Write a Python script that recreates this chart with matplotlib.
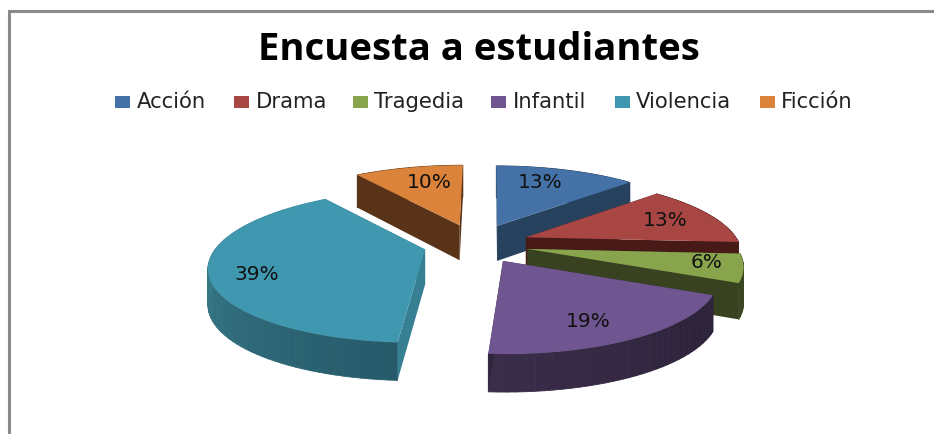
import numpy as np
import matplotlib
matplotlib.use("Agg")
import matplotlib.pyplot as plt
from matplotlib.collections import PolyCollection
from matplotlib.colors import to_rgb
from matplotlib.patches import Rectangle

# ---- data ----
title = "Encuesta a estudiantes"
categories = ["Acción", "Drama", "Tragedia", "Infantil", "Violencia", "Ficción"]
values = [13, 13, 6, 19, 39, 10]

# ---- style ----
top_colors = ["#4471A6", "#A84644", "#88A54E", "#6F5690", "#4097B0", "#DB833B"]
radial_colors = ["#27425F", "#471A18", "#384220", "#2E243B", "#377F93", "#583317"]
rim_start = ["#27425F", "#471A18", "#3A4521", "#2B2138", "#265A6A", "#583317"]
rim_end = ["#27425F", "#471A18", "#3A4521", "#3A2D4A", "#44909F", "#583317"]
draw_order = [0, 5, 1, 2, 3, 4]

# ---- layout (pixels of the 934x434 canvas) ----
center_x, center_y = 476.0, 244.0
explode_x, explode_y = 53.0, 19.7
radius_x, radius_y, persp = 210.0, 73.0, 0.216
vanish_x, skew = 490.0, 0.6
depth_mid, depth_slope = 35.0, 3.0
label_offsets = [(43, -43), (139, -17), (179, 14), (85, 61), (-168, 25), (-30, -43)]
swatch_left = [115, 233.5, 352.5, 491, 614.5, 760]
legend_text_left = [137, 256, 374, 513, 636, 781]

fig = plt.figure(figsize=(9.34, 4.34), dpi=100, facecolor="white")
ax = fig.add_axes([0, 0, 1, 1])
ax.set_xlim(0, 934)
ax.set_ylim(434, 0)
ax.axis("off")

# frame of the pasted picture
ax.plot([8.5, 8.5, 934], [434, 11, 11], color="#8A8A8A", lw=2.2,
        solid_joinstyle="miter", zorder=1)


def project(theta, apex_x):
    X, Y = np.sin(theta), -np.cos(theta)
    s = 1.0 / (1.0 - persp * Y)
    dx = radius_x * X * s + (apex_x - vanish_x) * (s - 1.0) * skew
    return dx, radius_y * Y * s, depth_mid + depth_slope * Y


fractions = np.array(values, dtype=float) / np.sum(values)
edges = np.concatenate([[0.0], np.cumsum(fractions)]) * 2 * np.pi

z = 2
for i in draw_order:
    t0, t1 = edges[i], edges[i + 1]
    mid = 0.5 * (t0 + t1)
    ax0 = center_x + explode_x * np.sin(mid)
    ay0 = center_y - explode_y * np.cos(mid)
    th = np.linspace(t0, t1, max(int(np.degrees(t1 - t0) / 2), 4) + 1)
    dx, dy, d = project(th, ax0)
    px, py = ax0 + dx, ay0 + dy

    # outer wall, shaded along the arc
    c0, c1 = np.array(to_rgb(rim_start[i])), np.array(to_rgb(rim_end[i]))
    quads, cols = [], []
    for k in range(len(th) - 1):
        quads.append([(px[k], py[k]), (px[k + 1], py[k + 1]),
                      (px[k + 1], py[k + 1] + d[k + 1]), (px[k], py[k] + d[k])])
        f = k / (len(th) - 2)
        cols.append(c0 + (c1 - c0) * f)
    ax.add_collection(PolyCollection(quads, facecolors=cols, edgecolors=cols,
                                     linewidths=0.6, zorder=z))
    z += 1

    # the two cut faces
    for idx in (0, -1):
        ax.fill([ax0, px[idx], px[idx], ax0],
                [ay0, py[idx], py[idx] + d[idx], ay0 + depth_mid],
                color=radial_colors[i], lw=0, zorder=z)
    z += 1

    # top face
    ax.fill(np.r_[ax0, px], np.r_[ay0, py], color=top_colors[i], lw=0, zorder=z)
    z += 1

    off = label_offsets[i]
    ax.text(ax0 + off[0], ay0 + off[1], f"{values[i]}%", ha="center", va="center",
            fontsize=14.5, family="DejaVu Sans", color="#111111", zorder=50)

# title
ax.text(478.5, 50.5, title, ha="center", va="center", fontsize=27.5,
        family="Open Sans", fontweight="bold", color="black", zorder=50)

# legend
for i, name in enumerate(categories):
    ax.add_patch(Rectangle((swatch_left[i], 96), 15, 12, color=top_colors[i], lw=0, zorder=50))
    ax.text(legend_text_left[i], 102.5, name, ha="left", va="center", fontsize=15.2,
            family="DejaVu Sans", color="#222222", zorder=50)

fig.savefig("out.png", dpi=100, facecolor="white")
